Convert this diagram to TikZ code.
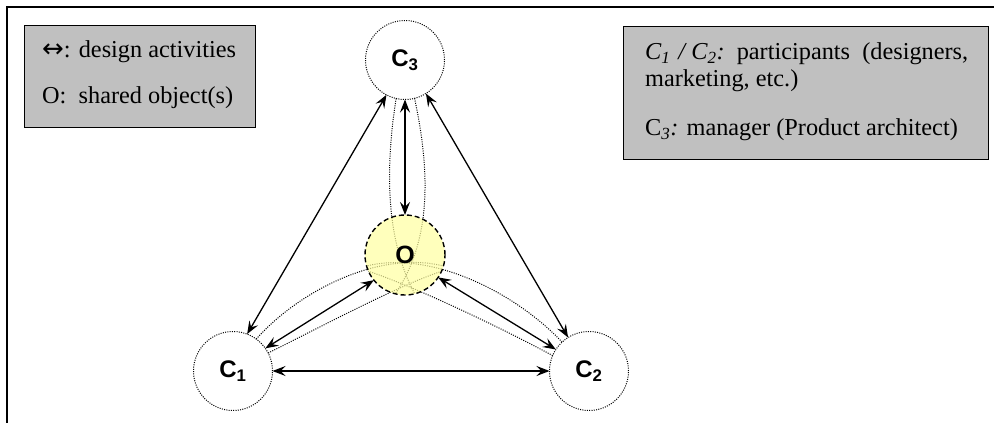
\documentclass[tikz,border=0pt]{standalone}
\usepackage{fontspec}
\setmainfont{Liberation Serif}
\setsansfont{Liberation Sans}
\newfontfamily\arrowfont{DejaVu Sans}
\usetikzlibrary{arrows.meta}
\pgfdeclarelayer{background}
\pgfsetlayers{background,main}
\definecolor{leggray}{RGB}{192,192,192}
\definecolor{oyellow}{RGB}{255,255,160}
\begin{document}
\begin{tikzpicture}[x=1pt,y=-1pt,
  legbox/.style={draw=black, line width=1pt, fill=leggray, inner sep=0pt, outer sep=0pt, anchor=north west},
  legtext/.style={anchor=west, inner sep=0pt, font=\fontsize{24.3}{27}\selectfont},
  cnode/.style={circle, draw=black, line width=1pt, dash pattern=on 1pt off 1.3pt, minimum size=79pt, inner sep=0pt, outer sep=0pt, font=\fontsize{24}{27}\sffamily\bfseries},
  onode/.style={circle, draw=black, line width=1.4pt, dash pattern=on 5pt off 3pt, fill=oyellow, fill opacity=0.7, draw opacity=1, text opacity=1, minimum size=80pt, inner sep=0pt, outer sep=0pt, font=\fontsize{25}{28}\sffamily\bfseries},
  band/.style={draw=black, line width=1pt, dash pattern=on 1pt off 1.3pt},
  arr/.style={draw=black, line width=1.3pt, {Stealth[length=13pt,width=10pt,inset=5pt]}-{Stealth[length=13pt,width=10pt,inset=5pt]}}
]
\useasboundingbox (0,0) rectangle (994,423);
\draw[line width=1.6pt] (7,423) -- (7,7) -- (994,7);

% legends
\node[legbox, minimum width=231pt, minimum height=102pt] (leg1) at (24,25) {};
\node[legtext] (l1a) at (42,52) {{\arrowfont\fontsize{26}{27}\selectfont ↔}: design activities};
\node[legtext] (l1b) at (42,98) {O:\ \ shared object(s)};

\node[legbox, minimum width=365pt, minimum height=133pt] (leg2) at (623,26) {};
\node[legtext] (l2a) at (645,54) {{\itshape C\textsubscript{1}\kern2pt\ /\ C\textsubscript{2}:}\ \ participants\ \ (designers,};
\node[legtext] (l2b) at (645,81) {marketing, etc.)};
\node[legtext] (l2c) at (645,130) {C{\itshape\textsubscript{3}:} manager (Product architect)};

% nodes
\node[cnode] (C3) at (405,60) {C\textsubscript{3}};
\node[cnode] (C1) at (233,371) {C\textsubscript{1}};
\node[cnode] (C2) at (589,371) {C\textsubscript{2}};
\node[onode] (O) at (405,255) {O};

% bands
\begin{pgfonlayer}{background}
\draw[band] (C3.257) .. controls (385,170) and (386,240) .. (O.284);
\draw[band] (C3.284) .. controls (430,170) and (432,240) .. (O.256);
\draw[band] (C1.54) .. controls (300,290) and (380,250) .. (O.344);
\draw[band] (C1.27) .. controls (330,322) and (400,285) .. (O.336);
\draw[band] (C2.133) .. controls (515,292) and (430,250) .. (O.196);
\draw[band] (C2.157) .. controls (490,322) and (410,285) .. (O.204);
\end{pgfonlayer}

% arrows
\draw[arr] (C3.south) -- (O.north);
\draw[arr] (C3.242) -- (C1.69);
\draw[arr] (C3.302) -- (C2.122);
\draw[arr] (C1.35) -- (O.219);
\draw[arr] (O.326) -- (C2.147);
\draw[arr] (C1.east) -- (C2.west);
\end{tikzpicture}
\end{document}
